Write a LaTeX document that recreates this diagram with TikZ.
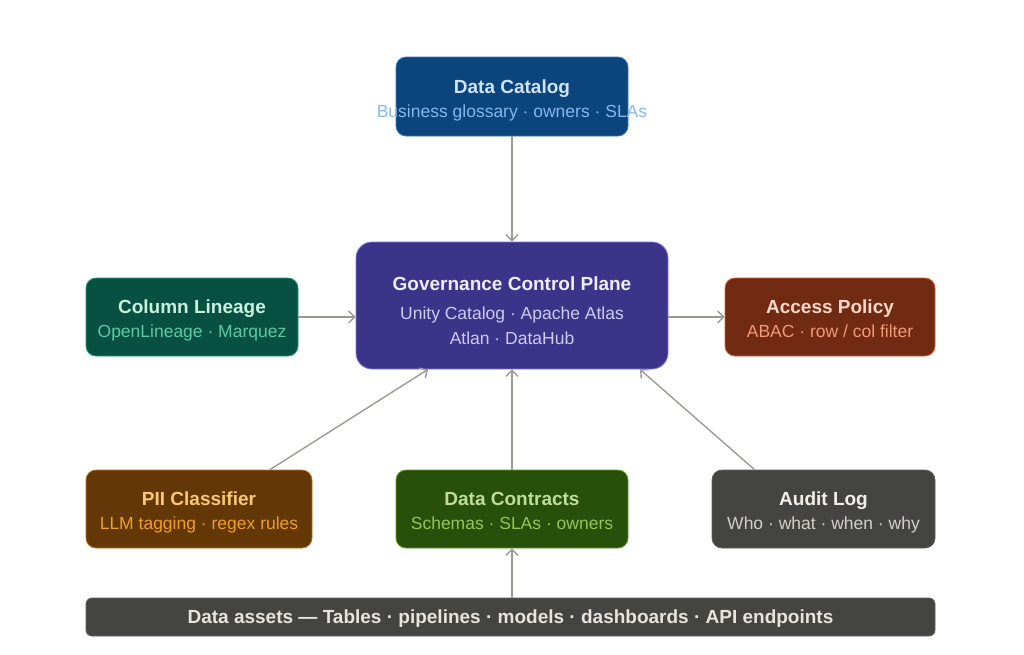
\documentclass[tikz,border=0pt]{standalone}
\usepackage{fontspec}
\setmainfont{Liberation Sans}
\usetikzlibrary{arrows.meta,positioning}

\begin{document}
\begin{tikzpicture}[x=1pt,y=-1pt,
  box/.style={rounded corners=10pt, line width=0.8pt, inner sep=0pt, minimum height=78pt},
  ttl/.style={anchor=base, inner sep=0pt, font=\fontsize{19}{22}\selectfont\bfseries},
  sub/.style={anchor=base, inner sep=0pt, font=\fontsize{17.5}{21}\selectfont},
  link/.style={draw={rgb,255:red,155;green,154;blue,146}, line width=1.4pt, -{Straight Barb[length=6pt,width=12pt]}}]
\useasboundingbox (0,0) rectangle (1024,654);

% boxes
\node[box, minimum width=232pt, minimum height=79pt, fill={rgb,255:red,12;green,68;blue,124}, draw={rgb,255:red,55;green,125;blue,195}] (cat) at (512,96.5) {};
\node[box, rounded corners=16pt, minimum width=312pt, minimum height=127pt, fill={rgb,255:red,60;green,52;blue,137}, draw={rgb,255:red,127;green,119;blue,221}] (gov) at (512,305.5) {};
\node[box, minimum width=212pt, fill={rgb,255:red,8;green,80;blue,65}, draw={rgb,255:red,29;green,158;blue,117}] (lin) at (192,317) {};
\node[box, minimum width=210pt, fill={rgb,255:red,113;green,43;blue,19}, draw={rgb,255:red,216;green,90;blue,48}] (acc) at (830,317) {};
\node[box, minimum width=226pt, fill={rgb,255:red,99;green,56;blue,6}, draw={rgb,255:red,186;green,117;blue,23}] (pii) at (199,509) {};
\node[box, minimum width=232pt, fill={rgb,255:red,39;green,80;blue,10}, draw={rgb,255:red,99;green,153;blue,34}] (con) at (512,509) {};
\node[box, minimum width=223pt, fill={rgb,255:red,68;green,68;blue,65}, draw={rgb,255:red,95;green,94;blue,90}] (aud) at (823.5,509) {};
\node[box, rounded corners=6pt, minimum width=849pt, minimum height=38pt, fill={rgb,255:red,68;green,68;blue,65}, draw={rgb,255:red,95;green,94;blue,90}] (bar) at (510.5,617) {};

% texts
\node[ttl, text={rgb,255:red,207;green,228;blue,248}] (catT) at (512,93) {Data Catalog};
\node[sub, text={rgb,255:red,133;green,183;blue,235}] (catS) at (512,117) {Business glossary · owners · SLAs};
\node[ttl, text={rgb,255:red,238;green,237;blue,254}] (govT) at (512,290) {Governance Control Plane};
\node[sub, text={rgb,255:red,206;green,203;blue,246}] (govS) at (512,319) {Unity Catalog · Apache Atlas};
\node[sub, text={rgb,255:red,206;green,203;blue,246}] (govU) at (512,344) {Atlan · DataHub};
\node[ttl, text={rgb,255:red,200;green,240;blue,222}] (linT) at (192,313) {Column Lineage};
\node[sub, text={rgb,255:red,93;green,202;blue,165}] (linS) at (192,337) {OpenLineage · Marquez};
\node[ttl, text={rgb,255:red,250;green,216;blue,202}] (accT) at (830,313) {Access Policy};
\node[sub, text={rgb,255:red,240;green,153;blue,123}] (accS) at (830,337) {ABAC · row / col filter};
\node[ttl, text={rgb,255:red,250;green,199;blue,117}] (piiT) at (199,505) {PII Classifier};
\node[sub, text={rgb,255:red,239;green,159;blue,39}] (piiS) at (199,529) {LLM tagging · regex rules};
\node[ttl, text={rgb,255:red,192;green,221;blue,151}] (conT) at (512,505) {Data Contracts};
\node[sub, text={rgb,255:red,151;green,196;blue,89}] (conS) at (512,529) {Schemas · SLAs · owners};
\node[ttl, text={rgb,255:red,241;green,239;blue,232}] (audT) at (823.5,505) {Audit Log};
\node[sub, text={rgb,255:red,211;green,209;blue,199}] (audS) at (823.5,529) {Who · what · when · why};
\node[ttl, text={rgb,255:red,230;green,228;blue,220}] (barT) at (510.5,623) {Data assets — Tables · pipelines · models · dashboards · API endpoints};

% connectors
\draw[link] (cat) -- (gov);
\draw[link] (lin.east) -- (lin.east -| gov.west);
\draw[link] (gov.east |- acc.west) -- (acc.west);
\draw[link] ([xshift=71pt]pii.north) -- ([xshift=-84pt]gov.south);
\draw[link] (con) -- (gov);
\draw[link] ([xshift=-69pt]aud.north) -- ([xshift=128pt]gov.south);
\draw[link] (bar.north -| con.south) -- (con.south);
\end{tikzpicture}
\end{document}
